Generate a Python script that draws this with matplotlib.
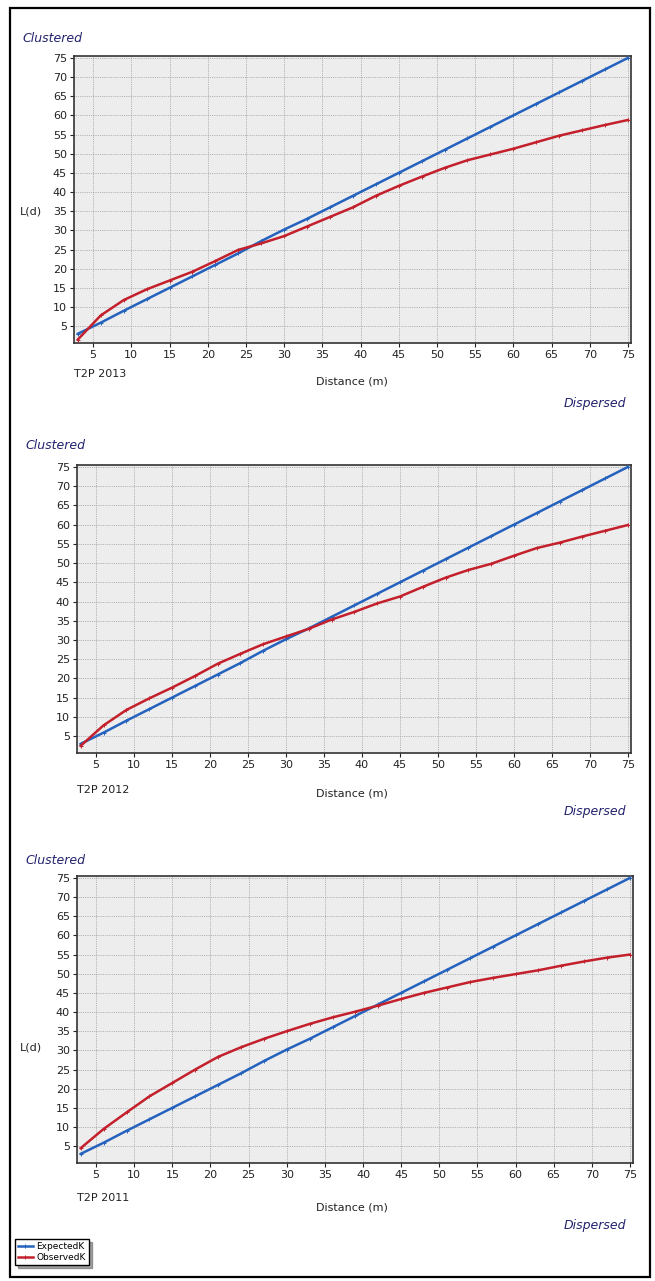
import matplotlib
matplotlib.use("Agg")
import matplotlib.pyplot as plt
from matplotlib.patches import Rectangle

# distances (m) at which K was evaluated
distance = [3, 6, 9, 12, 15, 18, 21, 24, 27, 30, 33, 36, 39, 42, 45, 48, 51,
            54, 57, 60, 63, 66, 69, 72, 75]

# expected L(d) (same in all panels)
expected_k = [3, 5.9, 9, 12, 15, 18, 21, 24, 27.2, 30.2, 33, 36, 39, 42, 45,
              48, 51, 54, 57, 60, 63, 66, 69, 72, 75]

# observed L(d) per year
observed_2013 = [1.5, 7.8, 11.8, 14.6, 16.9, 19.2, 22.0, 24.9, 26.6, 28.5, 31.0,
                 33.5, 36.0, 39.0, 41.6, 44.0, 46.3, 48.3, 49.8, 51.3, 53.0,
                 54.7, 56.1, 57.5, 58.8]
observed_2012 = [2.5, 7.8, 11.8, 14.8, 17.6, 20.6, 23.8, 26.4, 28.9, 30.9, 32.9,
                 35.3, 37.3, 39.5, 41.3, 43.8, 46.2, 48.2, 49.8, 51.9, 53.9,
                 55.3, 56.9, 58.4, 59.9]
observed_2011 = [4.5, 9.5, 13.8, 18.0, 21.5, 25.0, 28.3, 30.8, 33.0, 35.0, 36.9,
                 38.6, 40.1, 41.7, 43.4, 45.0, 46.4, 47.8, 48.9, 49.9, 50.9,
                 52.1, 53.2, 54.2, 55.0]

panel_names = ["T2P 2013", "T2P 2012", "T2P 2011"]
panel_obs = [observed_2013, observed_2012, observed_2011]

W, H = 655, 1281
fig = plt.figure(figsize=(W / 100, H / 100), dpi=100)


def fx(x):
    return x / W


def fy(y):
    return 1 - y / H


# axes boxes in pixels: left, right, top, bottom
boxes = [(74, 631, 56, 343), (77, 631, 465, 753), (77, 633, 876, 1163)]
# y positions of the text pieces for each panel
clustered_y = [38, 446, 860]
dispersed_y = [403, 812, 1226]
name_y = [374, 790, 1198]
dist_y = [381, 793, 1207]
ld_y = [212, None, 1047]

blue = "#2462BE"
red = "#C3202C"
navy = "#22226E"

for i in range(3):
    l, r, t, b = boxes[i]
    ax = fig.add_axes([fx(l), fy(b), (r - l) / W, (b - t) / H])
    ax.set_facecolor("#EDEDED")
    ax.plot(distance, expected_k, color=blue, lw=1.8, marker="+", ms=3.5,
            mew=0.7, label="ExpectedK", zorder=3)
    ax.plot(distance, panel_obs[i], color=red, lw=1.8, marker="+", ms=3.5,
            mew=0.7, label="ObservedK", zorder=3)
    ax.set_xlim(2.5, 75.4)
    ax.set_ylim(0.6, 75.5)
    ax.set_xticks(range(5, 80, 5))
    ax.set_yticks(range(5, 80, 5))
    ax.tick_params(labelsize=8, length=3, width=0.8, pad=2, colors="#222222")
    ax.grid(True, color="#a0a0a0", ls=(0, (1, 1.2)), lw=0.6)
    ax.set_axisbelow(True)
    for s in ax.spines.values():
        s.set_color("#333333")
        s.set_linewidth(1.2)

    fig.text(fx(l - 52), fy(clustered_y[i]), "Clustered", style="italic",
             color=navy, fontsize=9, va="center", ha="left")
    fig.text(fx(626), fy(dispersed_y[i]), "Dispersed", style="italic",
             color=navy, fontsize=9, va="center", ha="right")
    fig.text(fx(l), fy(name_y[i]), panel_names[i], fontsize=8,
             va="center", ha="left", color="#222222")
    fig.text(fx(352), fy(dist_y[i]), "Distance (m)", fontsize=8,
             va="center", ha="center", color="#222222")
    if ld_y[i] is not None:
        fig.text(fx(31), fy(ld_y[i]), "L(d)", fontsize=8,
                 va="center", ha="center", color="#222222")

fig.legend(handles=ax.get_lines(), loc="upper left",
           bbox_to_anchor=(fx(15), fy(1239)), fontsize=6.5, frameon=True,
           fancybox=False, shadow=True, edgecolor="black",
           handlelength=1.6, borderpad=0.35, labelspacing=0.2,
           handletextpad=0.4, borderaxespad=0)

# outer frame round the picture
fig.patches.append(Rectangle((fx(10), fy(1277)), (650 - 10) / W,
                             (1277 - 8) / H, transform=fig.transFigure,
                             fill=False, edgecolor="black", lw=1.6))

fig.savefig("out.png", dpi=100)
